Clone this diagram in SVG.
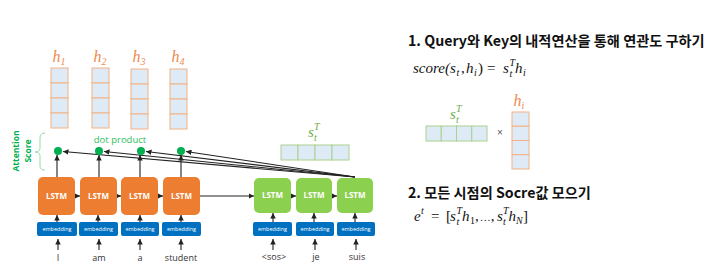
<svg xmlns="http://www.w3.org/2000/svg" width="722" height="275" viewBox="0 0 722 275">
<defs>
<marker id="ah" viewBox="0 0 6 6" refX="6" refY="3" markerWidth="5" markerHeight="5" orient="auto"><path d="M0,0 L6,3 L0,6 Z" fill="#222"/></marker>
<style>
.lstmO{fill:#ED7D31}
.lstmG{fill:#8CD04F}
.emb{fill:#0070C0}
.lt{font-family:"Open Sans","Liberation Sans",sans-serif;font-size:8px;font-weight:bold;fill:#fff;text-anchor:middle}
.et{font-family:"Open Sans","Liberation Sans",sans-serif;font-size:5.5px;fill:#fff;text-anchor:middle}
.wd{font-family:"Open Sans","Liberation Sans",sans-serif;font-size:9px;fill:#333;text-anchor:middle}
.cellO{fill:#DEEBF7;stroke:#F4B183;stroke-width:1}
.cellG{fill:#DEEBF7;stroke:#A9D18E;stroke-width:1}
.hl{font-family:"Liberation Serif",serif;font-style:italic;font-size:16px;fill:#EE8A4E;text-anchor:middle}
.sl{font-family:"Liberation Serif",serif;font-style:italic;font-size:15px;fill:#70AD47}
.sub{font-size:10px}
.cv{stroke:#222;stroke-width:1.1;fill:none;marker-end:url(#ah)}
.dot{fill:#00B050}
.ti{font-family:"Noto Sans CJK KR","Noto Sans",sans-serif;font-weight:bold;font-size:14.2px;fill:#111}
.fm{font-family:"Liberation Serif",serif;font-style:italic;font-size:15px;fill:#111}
.fr{font-family:"Liberation Serif",serif;font-size:15px;fill:#111}
.fs{font-family:"Liberation Serif",serif;font-style:italic;font-size:10px;fill:#111}
.fsr{font-family:"Liberation Serif",serif;font-size:10px;fill:#111}
</style>
</defs>
<rect width="722" height="275" fill="#fff"/>

<!-- hidden state vectors -->
<g id="h1"><rect class="cellO" x="51" y="68" width="17" height="15"/><rect class="cellO" x="51" y="83" width="17" height="15"/><rect class="cellO" x="51" y="98" width="17" height="15"/><rect class="cellO" x="51" y="113" width="17" height="15"/><text class="hl" x="59" y="62">h<tspan class="sub" dy="3">1</tspan></text></g>
<g id="h2"><rect class="cellO" x="92" y="68" width="17" height="15"/><rect class="cellO" x="92" y="83" width="17" height="15"/><rect class="cellO" x="92" y="98" width="17" height="15"/><rect class="cellO" x="92" y="113" width="17" height="15"/><text class="hl" x="100" y="62">h<tspan class="sub" dy="3">2</tspan></text></g>
<g id="h3"><rect class="cellO" x="131" y="69" width="17" height="15"/><rect class="cellO" x="131" y="84" width="17" height="15"/><rect class="cellO" x="131" y="99" width="17" height="15"/><rect class="cellO" x="131" y="114" width="17" height="15"/><text class="hl" x="139" y="62">h<tspan class="sub" dy="3">3</tspan></text></g>
<g id="h4"><rect class="cellO" x="170" y="69" width="17" height="15"/><rect class="cellO" x="170" y="84" width="17" height="15"/><rect class="cellO" x="170" y="99" width="17" height="15"/><rect class="cellO" x="170" y="114" width="17" height="15"/><text class="hl" x="178" y="62">h<tspan class="sub" dy="3">4</tspan></text></g>

<!-- attention score label -->
<g id="attn">
<text transform="translate(19,151) rotate(-90)" text-anchor="middle" font-family="Open Sans,Liberation Sans,sans-serif" font-weight="bold" font-size="8.5" fill="#00B050">Attention</text>
<text transform="translate(31,151) rotate(-90)" text-anchor="middle" font-family="Open Sans,Liberation Sans,sans-serif" font-weight="bold" font-size="8.5" fill="#00B050">Score</text>
<path d="M45,133 Q40,133 40,138 L40,148 Q40,152 35,152 Q40,152 40,156 L40,166 Q40,170 45,170" fill="none" stroke="#9BD9A9" stroke-width="1"/>
</g>
<text x="120" y="143" text-anchor="middle" font-family="Open Sans,Liberation Sans,sans-serif" font-size="9.5" fill="#2DBE60">dot product</text>

<!-- decoder state vector -->
<g id="st">
<rect class="cellG" x="281" y="145" width="17" height="15"/><rect class="cellG" x="298" y="145" width="17" height="15"/><rect class="cellG" x="315" y="145" width="17" height="15"/><rect class="cellG" x="332" y="145" width="17" height="15"/>
<text class="sl" x="308" y="137">s</text><text class="sl sub" x="314" y="141">t</text><text class="sl sub" x="314" y="130">T</text>
</g>

<!-- connectors -->
<g id="connectors">
<line class="cv" x1="355" y1="177" x2="63" y2="151.5"/>
<line class="cv" x1="355" y1="177" x2="104" y2="151.5"/>
<line class="cv" x1="355" y1="177" x2="146" y2="151.5"/>
<line class="cv" x1="355" y1="177" x2="186" y2="151.5"/>
<line class="cv" x1="57" y1="177" x2="57" y2="155"/>
<line class="cv" x1="99" y1="177" x2="99" y2="155"/>
<line class="cv" x1="140" y1="177" x2="140" y2="155"/>
<line class="cv" x1="181" y1="177" x2="181" y2="155"/>
<line class="cv" x1="75" y1="196" x2="80" y2="196"/>
<line class="cv" x1="117" y1="196" x2="121" y2="196"/>
<line class="cv" x1="158" y1="196" x2="163" y2="196"/>
<line class="cv" x1="200" y1="196" x2="254" y2="196"/>
<line class="cv" x1="291" y1="196" x2="296" y2="196"/>
<line class="cv" x1="332" y1="196" x2="337" y2="196"/>
<line class="cv" x1="57" y1="222" x2="57" y2="215"/>
<line class="cv" x1="98" y1="222" x2="98" y2="215"/>
<line class="cv" x1="140" y1="222" x2="140" y2="215"/>
<line class="cv" x1="181" y1="222" x2="181" y2="215"/>
<line class="cv" x1="273" y1="222" x2="273" y2="213"/>
<line class="cv" x1="314" y1="222" x2="314" y2="213"/>
<line class="cv" x1="355" y1="222" x2="355" y2="213"/>
<line class="cv" x1="58" y1="250" x2="58" y2="239"/>
<line class="cv" x1="99" y1="250" x2="99" y2="239"/>
<line class="cv" x1="140" y1="250" x2="140" y2="239"/>
<line class="cv" x1="181" y1="250" x2="181" y2="239"/>
<line class="cv" x1="273" y1="250" x2="273" y2="239"/>
<line class="cv" x1="315" y1="250" x2="315" y2="239"/>
<line class="cv" x1="356" y1="250" x2="356" y2="239"/>
</g>

<!-- dots -->
<g id="dots"><circle class="dot" cx="58" cy="151" r="4"/><circle class="dot" cx="99" cy="151" r="4"/><circle class="dot" cx="141" cy="151" r="4"/><circle class="dot" cx="181" cy="151" r="4"/></g>

<!-- encoder -->
<g id="enc1"><rect class="lstmO" x="38" y="177" width="37" height="38" rx="5"/><text class="lt" x="56.5" y="199">LSTM</text><rect class="emb" x="37" y="222" width="40" height="14" rx="2"/><text class="et" x="57" y="231">embedding</text><text class="wd" x="58" y="261">I</text></g>
<g id="enc2"><rect class="lstmO" x="80" y="177" width="37" height="38" rx="5"/><text class="lt" x="98.5" y="199">LSTM</text><rect class="emb" x="79" y="222" width="39" height="14" rx="2"/><text class="et" x="98.5" y="231">embedding</text><text class="wd" x="99" y="261">am</text></g>
<g id="enc3"><rect class="lstmO" x="121" y="177" width="37" height="38" rx="5"/><text class="lt" x="139.5" y="199">LSTM</text><rect class="emb" x="121" y="222" width="38" height="14" rx="2"/><text class="et" x="140" y="231">embedding</text><text class="wd" x="140" y="261">a</text></g>
<g id="enc4"><rect class="lstmO" x="163" y="177" width="37" height="38" rx="5"/><text class="lt" x="181.5" y="199">LSTM</text><rect class="emb" x="162" y="222" width="39" height="14" rx="2"/><text class="et" x="181.5" y="231">embedding</text><text class="wd" x="181" y="261">student</text></g>

<!-- decoder -->
<g id="dec1"><rect class="lstmG" x="254" y="178" width="37" height="35" rx="5"/><text class="lt" x="272.5" y="198">LSTM</text><rect class="emb" x="253" y="222" width="39" height="14" rx="2"/><text class="et" x="272.5" y="231">embedding</text><text class="wd" x="274" y="260">&lt;sos&gt;</text></g>
<g id="dec2"><rect class="lstmG" x="296" y="178" width="36" height="35" rx="5"/><text class="lt" x="314" y="198">LSTM</text><rect class="emb" x="296" y="222" width="38" height="14" rx="2"/><text class="et" x="315" y="231">embedding</text><text class="wd" x="316" y="260">je</text></g>
<g id="dec3"><rect class="lstmG" x="337" y="178" width="36" height="35" rx="5"/><text class="lt" x="355" y="198">LSTM</text><rect class="emb" x="337" y="222" width="38" height="14" rx="2"/><text class="et" x="356" y="231">embedding</text><text class="wd" x="357" y="260">suis</text></g>

<!-- right side -->
<g id="step1">
<text class="ti" x="408" y="46">1. Query와 Key의 내적연산을 통해 연관도 구하기</text>
<text class="fm" x="413" y="73">score(s</text>
<text class="fs" x="456.5" y="76">t</text>
<text class="fr" x="461" y="73">,</text>
<text class="fm" x="466" y="73">h</text>
<text class="fs" x="474" y="76">i</text>
<text class="fr" x="478" y="73">)</text>
<text class="fr" x="487" y="73">=</text>
<text class="fm" x="503" y="73">s</text>
<text class="fs" x="509.5" y="66">T</text>
<text class="fs" x="509.5" y="77">t</text>
<text class="fm" x="515" y="73">h</text>
<text class="fs" x="523" y="76">i</text>
</g>

<g id="stvec">
<rect class="cellG" x="426" y="126" width="15.25" height="15"/><rect class="cellG" x="441.25" y="126" width="15.25" height="15"/><rect class="cellG" x="456.5" y="126" width="15.25" height="15"/><rect class="cellG" x="471.75" y="126" width="15.25" height="15"/>
<text class="sl" x="450" y="119">s</text><text class="sl sub" x="456" y="123">t</text><text class="sl sub" x="456" y="112">T</text>
</g>
<text x="500" y="136" text-anchor="middle" font-family="Liberation Sans,sans-serif" font-size="10" fill="#555">×</text>
<g id="hivec">
<rect class="cellO" x="512" y="112" width="17" height="14.25"/><rect class="cellO" x="512" y="126.25" width="17" height="14.25"/><rect class="cellO" x="512" y="140.5" width="17" height="14.25"/><rect class="cellO" x="512" y="154.75" width="17" height="14.25"/>
<text class="hl" x="519" y="106">h<tspan class="sub" dy="3">i</tspan></text>
</g>

<g id="step2">
<text class="ti" x="408" y="198">2. 모든 시점의 Socre값 모으기</text>
<text class="fm" x="414" y="221">e</text>
<text class="fs" x="421" y="214">t</text>
<text class="fr" x="431" y="221">=</text>
<text class="fr" x="446" y="221">[</text>
<text class="fm" x="450" y="221">s</text>
<text class="fs" x="456.5" y="214">T</text>
<text class="fs" x="456.5" y="225">t</text>
<text class="fm" x="462" y="221">h</text>
<text class="fsr" x="470" y="224">1</text>
<text class="fr" x="475" y="221">,<tspan dx="1" font-size="11">…</tspan>,</text>
<text class="fm" x="497" y="221">s</text>
<text class="fs" x="503" y="214">T</text>
<text class="fs" x="503" y="225">t</text>
<text class="fm" x="508.5" y="221">h</text>
<text class="fs" x="516" y="224">N</text>
<text class="fr" x="523" y="221">]</text>
</g>
</svg>
